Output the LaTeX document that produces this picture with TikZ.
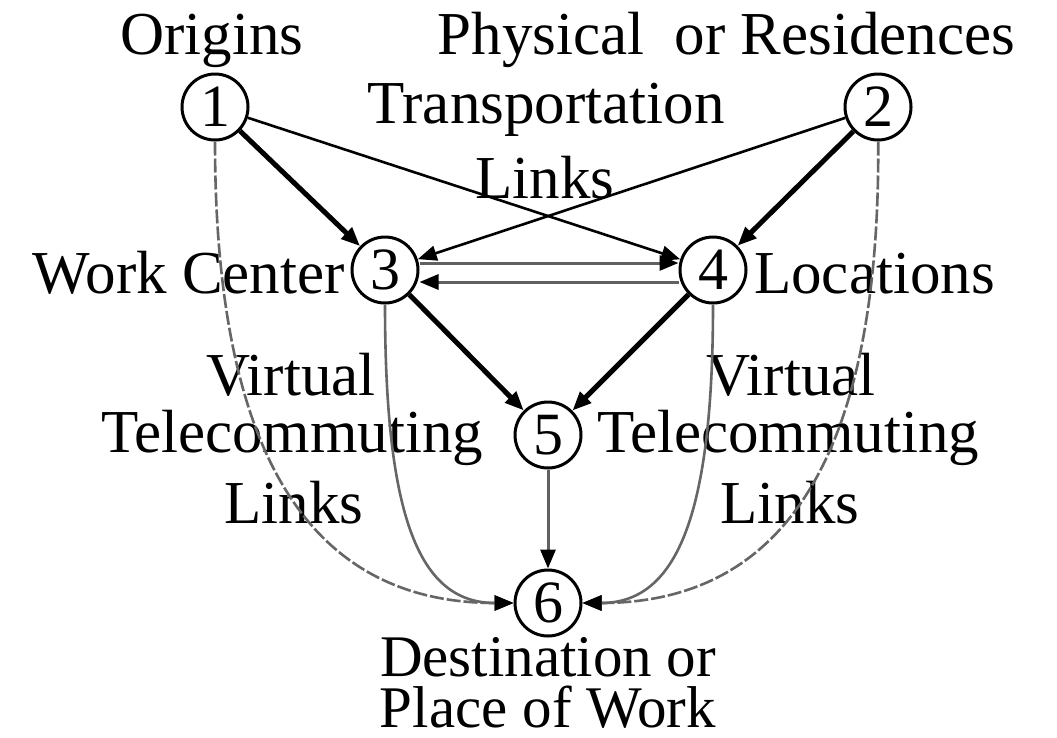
\documentclass[tikz,border=0pt]{standalone}
\usepackage{fontspec}
\setmainfont{Liberation Serif}
\usetikzlibrary{arrows.meta}
\begin{document}
\begin{tikzpicture}[x=1pt,y=-1pt,
  lbl/.style={font=\fontsize{61}{66}\selectfont, inner sep=0pt, anchor=base},
  circ/.style={draw, circle, line width=3pt, minimum size=66pt, inner sep=0pt, font=\fontsize{60}{60}\selectfont},
  tip/.style={-{Triangle[length=19pt,width=15pt,color=black]}},
  thick arr/.style={tip, draw=black, line width=5pt},
  thin arr/.style={tip, draw=black, line width=2.6pt},
  grey arr/.style={tip, draw=black!62, line width=3pt},
  vlink/.style={tip, draw=black!60, line width=2.6pt},
  vlinkd/.style={vlink, dash pattern=on 14pt off 3pt}
]
\useasboundingbox (0,0) rectangle (1057,737);
\fill[white] (0,0) rectangle (1057,737);

% nodes
\node[circ] (n1) at (215,107) {1};
\node[circ] (n2) at (878,107) {2};
\node[circ] (n3) at (385,270) {3};
\node[circ] (n4) at (713,270) {4};
\node[circ] (n5) at (548,435) {5};
\node[circ] (n6) at (548,603) {6};

% labels
\node[lbl] (tOrig) at (212,54) {Origins};
\node[lbl] (tPhys) at (541,54) {Physical};
\node[lbl] (tRes) at (845,54) {or Residences};
\node[lbl] (tTrans) at (546,123) {Transportation};
\node[lbl] (tLinks) at (545,198) {Links};
\node[lbl, anchor=base east] (tWork) at (345,293) {Work Center};
\node[lbl, anchor=base west] (tLoc) at (754,293) {Locations};
\node[lbl] (tVirtL) at (291,395) {Virtual};
\node[lbl] (tTeleL) at (292,452) {Telecommuting};
\node[lbl] (tLinkL) at (294,523) {Links};
\node[lbl] (tVirtR) at (791,395) {Virtual};
\node[lbl] (tTeleR) at (788,452) {Telecommuting};
\node[lbl] (tLinkR) at (790,523) {Links};
\node[lbl, anchor=north, align=center, font=\fontsize{59}{51}\selectfont] (tDest) at (548,637) {Destination or\\Place of Work};

% physical transportation links
\draw[thick arr] (n1) -- (n3);
\draw[thick arr] (n2) -- (n4);
\draw[thin arr] (n1) -- (n4);
\draw[thin arr] (n2) -- (n3);
\draw[grey arr] (n3.east |- 0,263) -- (n4.west |- 0,263);
\draw[grey arr] (n4.west |- 0,282) -- (n3.east |- 0,282);
\draw[thick arr] (n3) -- (n5);
\draw[thick arr] (n4) -- (n5);
\draw[grey arr] (n5) -- (n6);

% virtual telecommuting links
\draw[vlinkd] (n1) .. controls (215,430) and (295,603) .. (n6.west);
\draw[vlink] (n3) .. controls (385,520) and (420,603) .. (n6.west);
\draw[vlink] (n4) .. controls (713,520) and (675,603) .. (n6.east);
\draw[vlinkd] (n2) .. controls (880,430) and (800,603) .. (n6.east);
\end{tikzpicture}
\end{document}
